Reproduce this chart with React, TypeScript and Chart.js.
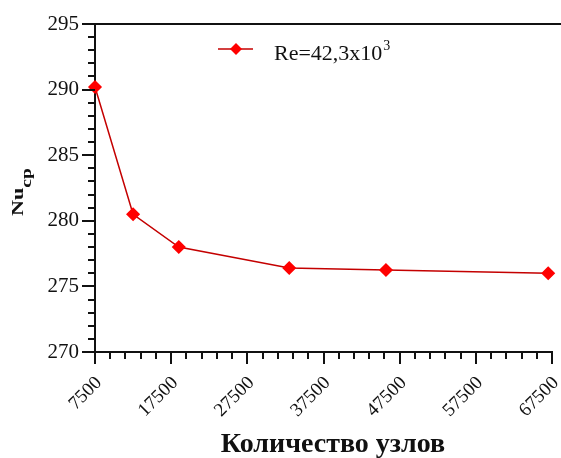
import React, { useEffect, useRef } from "react";
import { Chart, registerables } from "chart.js";

Chart.register(...registerables);

const nodes = [7500, 12500, 18500, 33000, 45700, 67000];
const nuValues = [290.2, 280.5, 278.0, 276.4, 276.25, 276.0];
const xTicks = [7500, 17500, 27500, 37500, 47500, 57500, 67500];
const yTicks = [270, 275, 280, 285, 290, 295];
const seriesLabel = "Re=42,3x10";
const seriesSup = "3";
const xTitle = "Количество узлов";
const yTitleMain = "Nu";
const yTitleSub = "cp";

const SERIF = "'Liberation Serif', 'Times New Roman', serif";
Chart.defaults.font.family = SERIF;

const decorPlugin = {
  id: "decor",
  afterDraw(chart: any) {
    const ctx = chart.ctx;
    const xs = chart.scales.x;
    const ys = chart.scales.y;
    const area = chart.chartArea;
    ctx.save();
    ctx.strokeStyle = "#111";
    ctx.lineWidth = 2;
    // top line
    ctx.beginPath();
    ctx.moveTo(area.left, area.top);
    ctx.lineTo(chart.width, area.top);
    ctx.stroke();
    // x ticks (major + minor)
    for (let v = xTicks[0]; v <= xTicks[xTicks.length - 1]; v += 2000) {
      const major = (v - xTicks[0]) % 10000 === 0;
      const px = Math.round(xs.getPixelForValue(v));
      ctx.beginPath();
      ctx.moveTo(px, area.bottom);
      ctx.lineTo(px, area.bottom + (major ? 12 : 7));
      ctx.stroke();
    }
    // y ticks (major + minor)
    for (let v = yTicks[0]; v <= yTicks[yTicks.length - 1]; v += 1) {
      const major = v % 5 === 0;
      const py = Math.round(ys.getPixelForValue(v));
      ctx.beginPath();
      ctx.moveTo(area.left, py);
      ctx.lineTo(area.left - (major ? 13 : 7), py);
      ctx.stroke();
    }
    // legend
    const lx = area.left + 123;
    const ly = area.top + 25;
    ctx.strokeStyle = "#c40000";
    ctx.lineWidth = 1.5;
    ctx.beginPath();
    ctx.moveTo(lx, ly);
    ctx.lineTo(lx + 35, ly);
    ctx.stroke();
    ctx.fillStyle = "#ff0000";
    ctx.beginPath();
    const cx = lx + 18;
    ctx.moveTo(cx, ly - 6);
    ctx.lineTo(cx + 6, ly);
    ctx.lineTo(cx, ly + 6);
    ctx.lineTo(cx - 6, ly);
    ctx.closePath();
    ctx.fill();
    ctx.fillStyle = "#111";
    ctx.font = `22px ${SERIF}`;
    ctx.textAlign = "left";
    ctx.textBaseline = "alphabetic";
    ctx.fillText(seriesLabel, lx + 56, ly + 11);
    const w = ctx.measureText(seriesLabel).width;
    ctx.font = `14px ${SERIF}`;
    ctx.fillText(seriesSup, lx + 56 + w + 1, ly + 1);
    // x title
    ctx.font = `bold 28px ${SERIF}`;
    ctx.textAlign = "center";
    ctx.fillText(xTitle, 333, 452);
    // y title
    ctx.save();
    ctx.translate(23, 216);
    ctx.rotate(-Math.PI / 2);
    ctx.scale(1.3, 1);
    ctx.textAlign = "left";
    ctx.font = `bold 17px ${SERIF}`;
    ctx.fillText(yTitleMain, 0, 0);
    const w2 = ctx.measureText(yTitleMain).width;
    ctx.font = `bold 15px ${SERIF}`;
    ctx.fillText(yTitleSub, w2, 8);
    ctx.restore();
    ctx.restore();
  },
};

export default function App() {
  const ref = useRef<HTMLCanvasElement>(null);
  useEffect(() => {
    document.body.style.margin = "0";
    const chart = new Chart(ref.current!, {
      type: "line",
      data: {
        datasets: [
          {
            label: seriesLabel,
            data: nodes.map((x, i) => ({ x, y: nuValues[i] })),
            borderColor: "#c40000",
            borderWidth: 1.5,
            backgroundColor: "#ff0000",
            pointBackgroundColor: "#ff0000",
            pointBorderColor: "#ff0000",
            pointStyle: "rectRot",
            pointRadius: 6,
            tension: 0,
            clip: false as any,
          },
        ],
      },
      options: {
        animation: false,
        responsive: false,
        layout: { padding: { top: 24, right: 9, left: 0, bottom: 0 } },
        plugins: { legend: { display: false }, tooltip: { enabled: false } },
        scales: {
          x: {
            type: "linear",
            min: 7500,
            max: 67500,
            afterBuildTicks: (s: any) => {
              s.ticks = xTicks.map((v) => ({ value: v }));
            },
            afterFit: (s: any) => {
              s.height = 106;
              s.paddingLeft = 0;
              s.paddingRight = 0;
            },
            grid: { display: true, drawOnChartArea: false, drawTicks: false, color: "transparent" },
            border: { display: true, color: "#111", width: 2 },
            ticks: {
              autoSkip: false,
              minRotation: 45,
              maxRotation: 45,
              padding: 20,
              labelOffset: 4,
              color: "#111",
              font: { family: SERIF, size: 19 },
              callback: (v: any) => String(v),
            },
          },
          y: {
            min: 270,
            max: 295,
            afterBuildTicks: (s: any) => {
              s.ticks = yTicks.map((v) => ({ value: v }));
            },
            afterFit: (s: any) => {
              s.width = 95;
              s.paddingTop = 0;
              s.paddingBottom = 0;
            },
            grid: { display: true, drawOnChartArea: false, drawTicks: false, color: "transparent" },
            border: { display: true, color: "#111", width: 2 },
            ticks: {
              padding: 16,
              color: "#111",
              font: { family: SERIF, size: 21 },
              callback: (v: any) => String(v),
            },
          },
        },
      },
      plugins: [decorPlugin],
    });
    return () => chart.destroy();
  }, []);
  return <canvas ref={ref} width={561} height={458} style={{ display: "block" }} />;
}
